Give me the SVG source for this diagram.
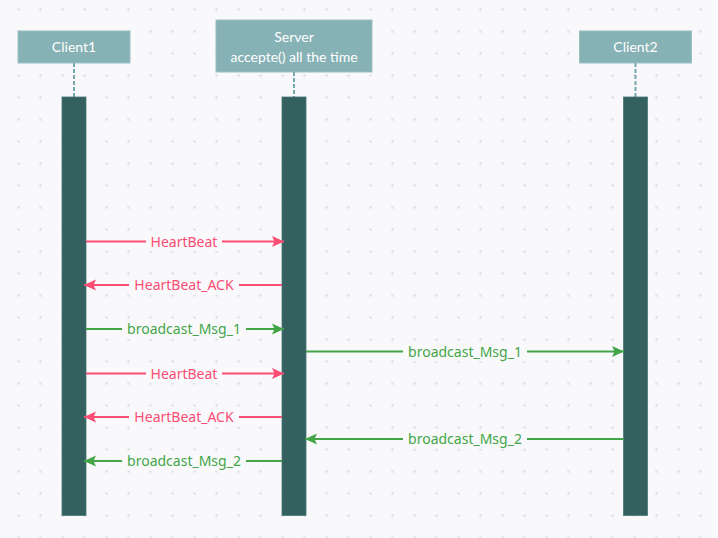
<svg xmlns="http://www.w3.org/2000/svg" width="718" height="538" viewBox="0 0 718 538">
<defs>
<pattern id="dots" x="18.5" y="9.5" width="22" height="22" patternUnits="userSpaceOnUse">
<circle cx="0" cy="0" r="1.3" fill="#dcdde2"/>
<circle cx="22" cy="0" r="1.3" fill="#dcdde2"/>
<circle cx="0" cy="22" r="1.3" fill="#dcdde2"/>
<circle cx="22" cy="22" r="1.3" fill="#dcdde2"/>
</pattern>
<marker id="ap" viewBox="0 0 12 12" refX="12" refY="6" markerWidth="12" markerHeight="12" markerUnits="userSpaceOnUse" orient="auto">
<path d="M0,0.5 L12,6 L0,11.5 L2.5,6 Z" fill="#fb4d74"/>
</marker>
<marker id="ag" viewBox="0 0 12 12" refX="12" refY="6" markerWidth="12" markerHeight="12" markerUnits="userSpaceOnUse" orient="auto">
<path d="M0,0.5 L12,6 L0,11.5 L2.5,6 Z" fill="#43a548"/>
</marker>
</defs>
<style>
.hdr{fill:#86b1b5;stroke:#9cc0c4;stroke-width:1}
.ht{font-family:Lato,"Noto Sans",sans-serif;font-size:14px;fill:#ffffff;text-anchor:middle}
.bar{fill:#346160;stroke:#4a7776;stroke-width:0.8}
.dash{stroke:#74a9ae;stroke-width:2;stroke-dasharray:4 2}
.mp{stroke:#fb4d74;stroke-width:2;fill:none;marker-end:url(#ap)}
.mg{stroke:#43a548;stroke-width:2;fill:none;marker-end:url(#ag)}
.lb{fill:#f9f9fb}
.tp{font-family:"Noto Sans",sans-serif;font-size:14px;fill:#fb4d74;text-anchor:middle}
.tg{font-family:"Noto Sans",sans-serif;font-size:14px;fill:#43a548;text-anchor:middle}
</style>
<rect width="718" height="538" fill="#f9f9fb"/>
<rect width="718" height="538" fill="url(#dots)"/>

<g id="client1">
<rect class="hdr" x="18" y="31" width="112" height="32"/>
<text class="ht" x="74" y="52">Client1</text>
<line class="dash" x1="74" y1="63" x2="74" y2="97"/>
<rect class="bar" x="62" y="97" width="24" height="418.5"/>
</g>
<g id="server">
<rect class="hdr" x="216" y="20" width="156" height="52"/>
<text class="ht" x="294" y="42">Server</text>
<text class="ht" x="294" y="62">accepte() all the time</text>
<line class="dash" x1="294" y1="72" x2="294" y2="97"/>
<rect class="bar" x="282" y="97" width="24" height="418.5"/>
</g>
<g id="client2">
<rect class="hdr" x="579.5" y="31" width="112" height="32"/>
<text class="ht" x="635.5" y="52">Client2</text>
<line class="dash" x1="635.5" y1="63" x2="635.5" y2="97"/>
<rect class="bar" x="623.5" y="97" width="24" height="418.5"/>
</g>

<g id="connectors">
<line class="mp" x1="86" y1="241.5" x2="284" y2="241.5"/>
<rect class="lb" x="146" y="232" width="76" height="19"/>
<text class="tp" x="184" y="246.5">HeartBeat</text>

<line class="mp" x1="282" y1="285" x2="84" y2="285"/>
<rect class="lb" x="129" y="275.5" width="110" height="19"/>
<text class="tp" x="184" y="290">HeartBeat_ACK</text>

<line class="mg" x1="86" y1="329" x2="284" y2="329"/>
<rect class="lb" x="122" y="319.5" width="124" height="19"/>
<text class="tg" x="184" y="334">broadcast_Msg_1</text>

<line class="mg" x1="306" y1="351.5" x2="624" y2="351.5"/>
<rect class="lb" x="403" y="342" width="124" height="19"/>
<text class="tg" x="465" y="356.5">broadcast_Msg_1</text>

<line class="mp" x1="86" y1="373.5" x2="284" y2="373.5"/>
<rect class="lb" x="146" y="364" width="76" height="19"/>
<text class="tp" x="184" y="378.5">HeartBeat</text>

<line class="mp" x1="282" y1="417" x2="84" y2="417"/>
<rect class="lb" x="129" y="407.5" width="110" height="19"/>
<text class="tp" x="184" y="422">HeartBeat_ACK</text>

<line class="mg" x1="623.5" y1="439" x2="305" y2="439"/>
<rect class="lb" x="403" y="429.5" width="124" height="19"/>
<text class="tg" x="465" y="444">broadcast_Msg_2</text>

<line class="mg" x1="282" y1="461" x2="84" y2="461"/>
<rect class="lb" x="122" y="451.5" width="124" height="19"/>
<text class="tg" x="184" y="466">broadcast_Msg_2</text>
</g>
</svg>
